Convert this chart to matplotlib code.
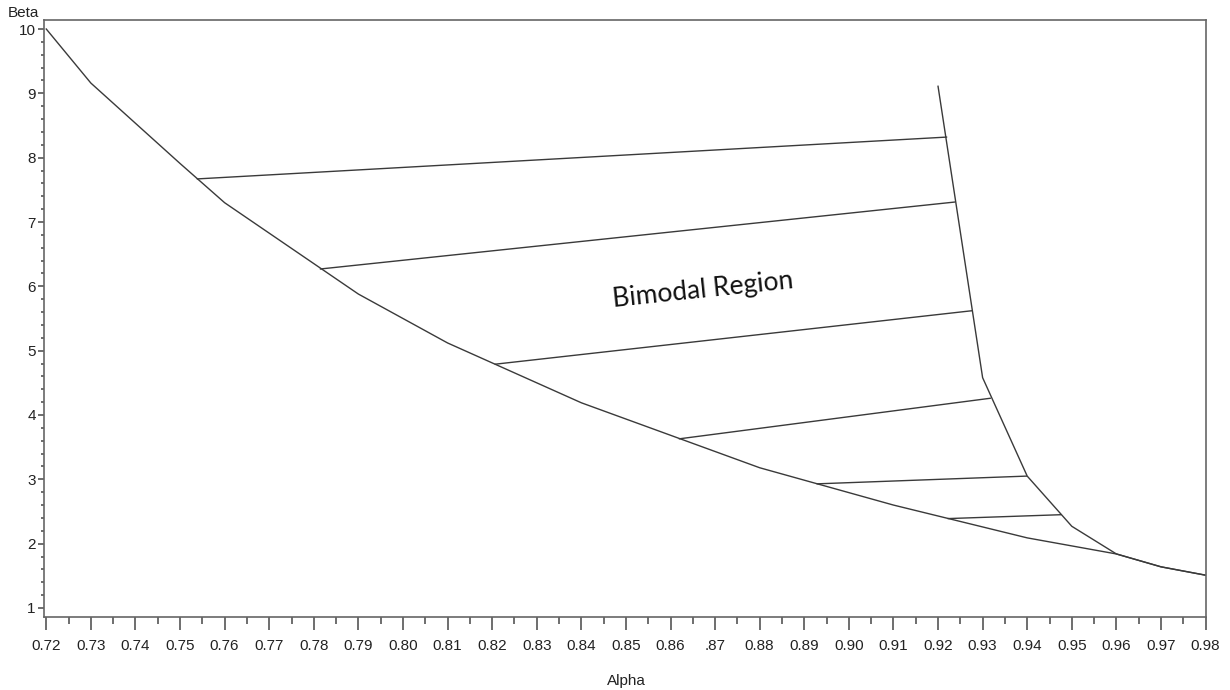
import matplotlib
matplotlib.use('Agg')
import matplotlib.pyplot as plt
import numpy as np

plt.rcParams.update({
    'font.family': ['Liberation Sans', 'DejaVu Sans'],
    'font.size': 11,
})

# lower boundary of the bimodal region
lower_alpha = [0.72, 0.73, 0.75, 0.76, 0.79, 0.81, 0.84, 0.88, 0.91, 0.94, 0.96, 0.97, 0.98]
lower_beta = [10.0, 9.16, 7.91, 7.30, 5.88, 5.12, 4.19, 3.18, 2.60, 2.09, 1.84, 1.64, 1.51]

# upper / right boundary
upper_alpha = [0.92, 0.93, 0.94, 0.95, 0.96, 0.97, 0.98]
upper_beta = [9.11, 4.58, 3.05, 2.27, 1.84, 1.64, 1.51]

# tie lines between the two boundaries
tie_alpha0 = [0.7539, 0.7815, 0.8207, 0.8620, 0.8929, 0.9223]
tie_beta0 = [7.67, 6.27, 4.79, 3.63, 2.93, 2.39]
tie_alpha1 = [0.9219, 0.9237, 0.9275, 0.9317, 0.9398, 0.9475]
tie_beta1 = [8.32, 7.31, 5.62, 4.26, 3.05, 2.45]

xticks = [0.72, 0.73, 0.74, 0.75, 0.76, 0.77, 0.78, 0.79, 0.80, 0.81, 0.82, 0.83, 0.84,
          0.85, 0.86, 0.87, 0.88, 0.89, 0.90, 0.91, 0.92, 0.93, 0.94, 0.95, 0.96, 0.97, 0.98]
xlabels = ['%.2f' % v for v in xticks]
xlabels[15] = '.87'
yticks = [1, 2, 3, 4, 5, 6, 7, 8, 9, 10]

fig = plt.figure(figsize=(12.3, 6.9), dpi=100)
ax = fig.add_axes([0.0358, 0.1058, 0.9447, 0.8652])

line_col = '#3a3a3a'
ax.plot(lower_alpha, lower_beta, color=line_col, lw=1.0)
ax.plot(upper_alpha, upper_beta, color=line_col, lw=1.0)
for a0, b0, a1, b1 in zip(tie_alpha0, tie_beta0, tie_alpha1, tie_beta1):
    ax.plot([a0, a1], [b0, b1], color=line_col, lw=1.0)

ax.text(0.8672, 5.94, 'Bimodal Region', family=['Lato', 'DejaVu Sans'], fontsize=19,
        rotation=6, ha='center', va='center', color='#111111')

ax.set_xlim(0.7195, 0.9801)
ax.set_ylim(0.86, 10.14)
ax.set_xticks(xticks)
ax.set_xticklabels(xlabels)
ax.set_xticks(np.arange(0.725, 0.98, 0.01), minor=True)
ax.set_yticks(yticks)
ax.set_yticks(np.arange(1.2, 10.0, 0.2), minor=True)

for s in ax.spines.values():
    s.set_color('#666666')
    s.set_linewidth(1.2)
ax.tick_params(axis='x', which='major', length=9, width=1.2, color='#555555', pad=7, labelcolor='#222222')
ax.tick_params(axis='x', which='minor', length=5, width=1.2, color='#555555')
ax.tick_params(axis='y', which='major', length=4, width=1.2, color='#555555', pad=2, labelcolor='#222222')
ax.tick_params(axis='y', which='minor', length=2.5, width=1.2, color='#555555')

fig.text(0.006, 0.981, 'Beta', fontsize=11, color='#222222', ha='left', va='center')
fig.text(0.509, 0.013, 'Alpha', fontsize=11, color='#222222', ha='center', va='center')

fig.savefig('out.png', dpi=100)
